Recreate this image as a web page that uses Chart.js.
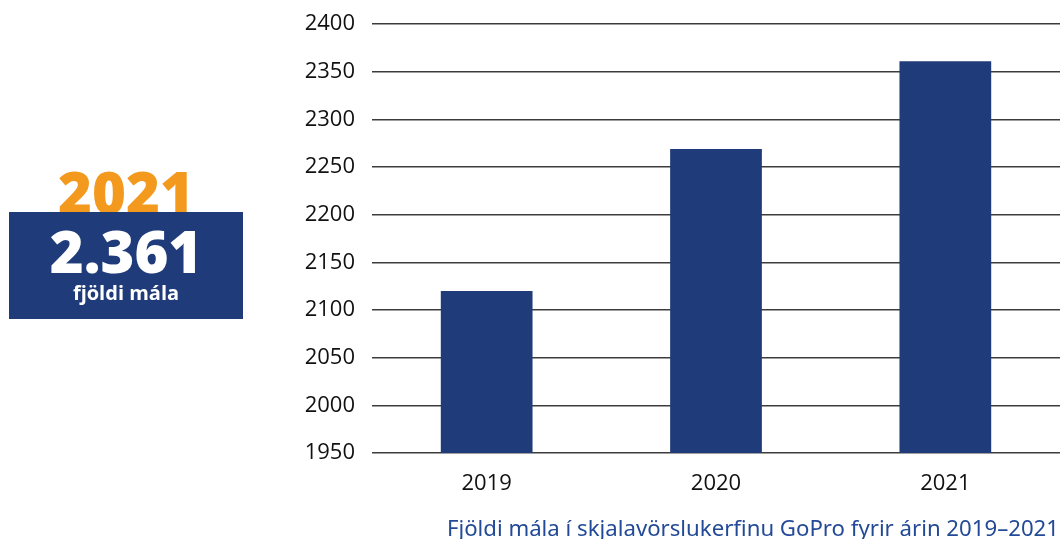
<!DOCTYPE html>
<html>
<head>
<meta charset="utf-8">
<script src="https://cdn.jsdelivr.net/npm/chart.js@4/dist/chart.umd.min.js"></script>
<style>
  html, body { margin: 0; padding: 0; background: #fff; }
  #wrap { position: relative; width: 1064px; height: 539px; overflow: hidden; }
  #c { position: absolute; left: 0; top: 0; }
  #box { position: absolute; left: 9px; top: 212px; width: 234px; height: 107px; background: #1f3b7a; }
  #year { position: absolute; left: 9px; width: 234px; top: 152px; text-align: center; font-family: "Open Sans", sans-serif; font-weight: 800; font-size: 58px; line-height: 79px; color: #f39a1e; }
  #num { position: absolute; left: 9px; width: 234px; top: 211px; text-align: center; font-family: "Open Sans", sans-serif; font-weight: 800; font-size: 58px; line-height: 79px; color: #fff; }
  #lbl { position: absolute; left: 9px; width: 234px; top: 279px; text-align: center; font-family: "Open Sans", sans-serif; font-weight: 700; font-size: 20px; line-height: 27px; color: #fff; }
  #cap { position: absolute; right: 5px; top: 513px; font-family: "Noto Sans", sans-serif; font-size: 22.2px; line-height: 30px; color: #234a96; white-space: nowrap; }
</style>
</head>
<body>
<div id="wrap">
  <canvas id="c" width="1064" height="539"></canvas>
  <div id="year">2021</div>
  <div id="box"></div>
  <div id="num">2.361</div>
  <div id="lbl">fjöldi mála</div>
  <div id="cap">Fjöldi mála í skjalavörslukerfinu GoPro fyrir árin 2019–2021</div>
</div>
<script>
const categories = ['2019', '2020', '2021'];
const caseCounts = [2120, 2269, 2361];
const yTicks = [1950, 2000, 2050, 2100, 2150, 2200, 2250, 2300, 2350, 2400];

new Chart(document.getElementById('c'), {
  type: 'bar',
  data: {
    labels: categories,
    datasets: [{
      data: caseCounts,
      backgroundColor: '#1f3b7a',
      borderWidth: 0,
      barPercentage: 0.4,
      categoryPercentage: 1.0
    }]
  },
  options: {
    responsive: false,
    animation: false,
    layout: { padding: { left: 290, top: 24, right: 4, bottom: 0 } },
    plugins: { legend: { display: false }, tooltip: { enabled: false } },
    scales: {
      x: {
        grid: { display: false, drawTicks: false },
        border: { display: false },
        ticks: { color: '#111', font: { family: 'Open Sans', size: 22 }, padding: 18 },
        afterFit: (s) => { s.height = 86; s.paddingLeft = 0; s.paddingRight = 0; }
      },
      y: {
        min: yTicks[0],
        max: yTicks[yTicks.length - 1],
        afterBuildTicks: (s) => { s.ticks = yTicks.map(v => ({ value: v })); },
        grid: { color: '#3c3c3c', lineWidth: 1.5, drawTicks: false },
        border: { display: false },
        ticks: { color: '#111', font: { family: 'Open Sans', size: 22 }, padding: 17, callback: (v) => String(v) },
        afterFit: (s) => { s.width = 82; s.paddingTop = 0; s.paddingBottom = 0; }
      }
    }
  }
});
</script>
</body>
</html>
